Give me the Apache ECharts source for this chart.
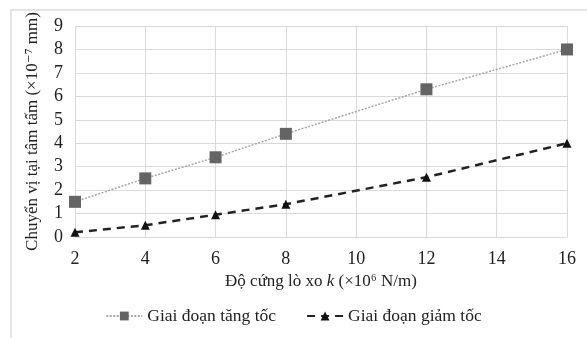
<!DOCTYPE html>
<html>
<head>
<meta charset="utf-8">
<script src="https://cdn.jsdelivr.net/npm/echarts@6/dist/echarts.min.js"></script>
<style>
  html, body { margin: 0; padding: 0; background: #fff; }
  #frame { position: absolute; left: 10px; top: 9px; width: 600px; height: 340px; border-left: 2px solid #e3e3e3; border-top: 2px solid #e3e3e3; }
  #chart { position: absolute; left: 0; top: 0; width: 587px; height: 338px; }
</style>
</head>
<body>
<div id="frame"></div>
<div id="chart"></div>
<script>
  // do cung lo xo k (x10^6 N/m)
  var kValues = [2, 4, 6, 8, 12, 16]
  var tangToc = [1.5, 2.5, 3.4, 4.4, 6.3, 8.0]
  var giamToc = [0.2, 0.5, 0.95, 1.4, 2.55, 4.0]
  var seriesNames = ['Giai đoạn tăng tốc', 'Giai đoạn giảm tốc']

  var font = '"Liberation Serif", "DejaVu Serif", serif'
  var pairs = function (xs, ys) {
    return xs.map(function (x, i) { return [x, ys[i]] })
  }

  var myChart = echarts.init(document.getElementById('chart'))
  myChart.setOption({
    animation: false,
    textStyle: { fontFamily: font },
    legend: {
      data: seriesNames,
      bottom: 8,
      left: 'center',
      itemGap: 30,
      itemWidth: 36,
      itemHeight: 11,
      textStyle: { fontFamily: font, fontSize: 17.5, color: '#222' }
    },
    grid: { left: 75, right: 20, top: 26, bottom: 101 },
    xAxis: {
      type: 'value',
      min: 2,
      max: 16,
      interval: 2,
      name: 'Độ cứng lò xo {i|k} (×10⁶ N/m)',
      nameLocation: 'middle',
      nameGap: 34,
      nameTextStyle: {
        fontFamily: font, fontSize: 17, color: '#222',
        rich: { i: { fontFamily: font, fontSize: 17, fontStyle: 'italic', color: '#222' } }
      },
      axisLine: { show: true, lineStyle: { color: '#d9d9d9' } },
      axisTick: { show: false },
      axisLabel: { fontFamily: font, fontSize: 18, color: '#222', margin: 13 },
      splitLine: { show: true, lineStyle: { color: '#d9d9d9' } }
    },
    yAxis: {
      type: 'value',
      min: 0,
      max: 9,
      interval: 1,
      name: 'Chuyển vị tại tâm tấm (×10⁻⁷ mm)',
      nameLocation: 'middle',
      nameGap: 34,
      nameTextStyle: { fontFamily: font, fontSize: 17, color: '#222' },
      axisLine: { show: true, lineStyle: { color: '#d9d9d9' } },
      axisTick: { show: false },
      axisLabel: { fontFamily: font, fontSize: 18, color: '#222', margin: 12 },
      splitLine: { show: true, lineStyle: { color: '#d9d9d9' } }
    },
    series: [
      {
        name: seriesNames[0],
        type: 'line',
        data: pairs(kValues, tangToc),
        symbol: 'rect',
        symbolSize: 12,
        itemStyle: { color: '#646464' },
        lineStyle: { color: '#a6a6a6', width: 1.5, type: [2, 1.5] }
      },
      {
        name: seriesNames[1],
        type: 'line',
        data: pairs(kValues, giamToc),
        symbol: 'triangle',
        symbolSize: 9,
        itemStyle: { color: '#111' },
        lineStyle: { color: '#222', width: 2.5, type: [8, 6] }
      }
    ]
  })
</script>
</body>
</html>
